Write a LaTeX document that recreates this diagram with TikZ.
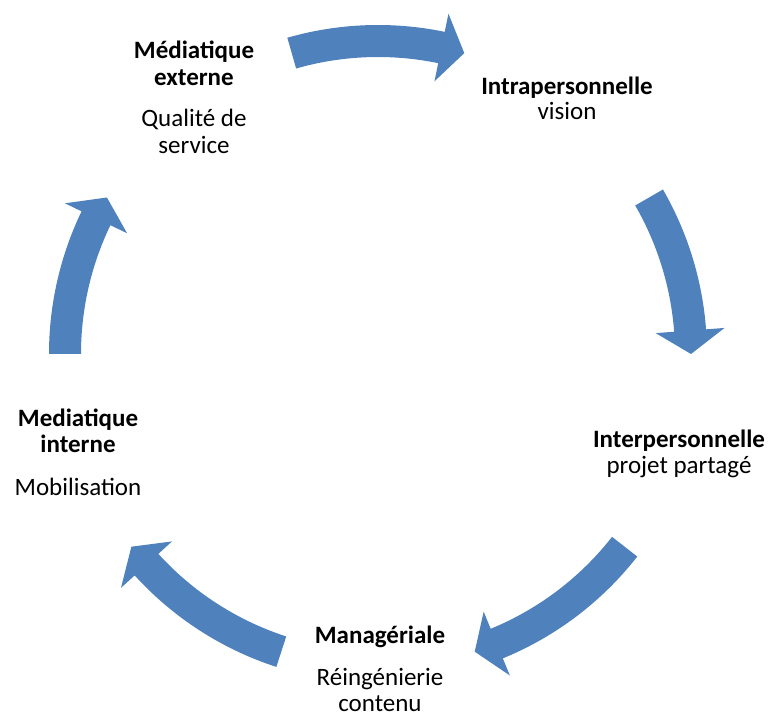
\documentclass[tikz,border=0pt]{standalone}
\usepackage{fontspec}
\setmainfont{Carlito}
\definecolor{arrowblue}{HTML}{4F81BD}
\newcommand{\cycarrow}[2]{%
  \pgfmathsetmacro{\hb}{#2+4.3}%
  \begin{scope}[shift={(C)}]
    \fill[arrowblue] (#1:329pt) arc[start angle=#1, end angle=\hb, radius=329pt]
      -- (\hb:347.5pt) -- (#2:313pt) -- (\hb:278.5pt) -- (\hb:297pt)
      arc[start angle=\hb, end angle=#1, radius=297pt] -- cycle;
  \end{scope}}
\begin{document}
\begin{tikzpicture}[x=1pt,y=1pt,
  lbl/.style={anchor=base, inner sep=0pt, font=\fontsize{25}{26}\selectfont},
  ttl/.style={lbl, font=\fontsize{25}{26}\selectfont\bfseries}]
\useasboundingbox (0,0) rectangle (774,713);
\coordinate (C) at (378,359);
% arrows (tail angle, tip angle)
\cycarrow{106}{74}
\cycarrow{30}{0}
\cycarrow{-38}{-72}
\cycarrow{-108}{-142}
\cycarrow{180}{150}
% Médiatique externe
\node[ttl] (me1) at (194,654) {Médiatique};
\node[ttl] (me2) at (194,627.5) {externe};
\node[lbl] (me3) at (194,586) {Qualité de};
\node[lbl] (me4) at (194,559) {service};
% Intrapersonnelle
\node[ttl] (ia1) at (567,618) {Intrapersonnelle};
\node[lbl] (ia2) at (567,593) {vision};
% Interpersonnelle
\node[ttl] (ie1) at (679,265) {Interpersonnelle};
\node[lbl] (ie2) at (679,240) {projet partagé};
% Managériale
\node[ttl] (ma1) at (380,70) {Managériale};
\node[lbl] (ma2) at (380,28) {Réingénierie};
\node[lbl] (ma3) at (380,2) {contenu};
% Mediatique interne
\node[ttl] (mi1) at (78,286) {Mediatique};
\node[ttl] (mi2) at (78,260.5) {interne};
\node[lbl] (mi3) at (78,218) {Mobilisation};
\end{tikzpicture}
\end{document}
